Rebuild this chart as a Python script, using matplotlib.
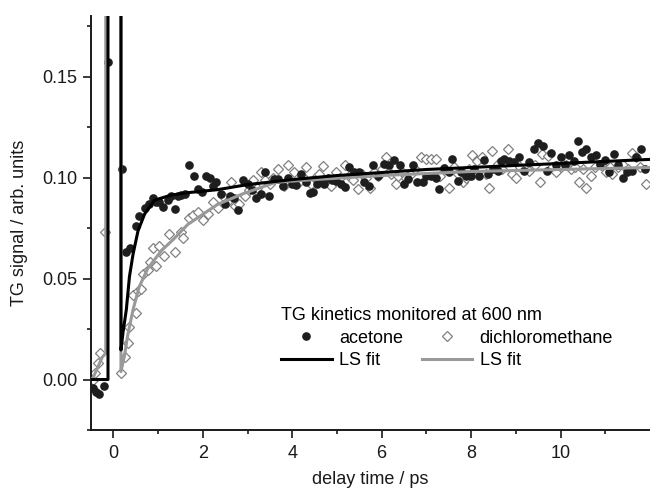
import matplotlib
matplotlib.use("Agg")
import matplotlib.pyplot as plt

plt.rcParams['font.family'] = ['Liberation Sans', 'DejaVu Sans']

# acetone data (delay time / ps, signal)
acetone_t = [-0.45, -0.39, -0.33, -0.22, -0.11, 0.20, 0.28, 0.38, 0.51, 0.58, 0.71, 0.80, 0.88, 0.96,
             1.03, 1.10, 1.22, 1.30, 1.38, 1.45, 1.51, 1.60, 1.70, 1.80, 1.89, 1.98, 2.07, 2.15, 2.22,
             2.29, 2.40, 2.49, 2.60, 2.70, 2.79, 2.90, 3.01, 3.10, 3.20, 3.31, 3.38, 3.49, 3.60, 3.68,
             3.79, 3.90, 4.00, 4.09, 4.20, 4.30, 4.39, 4.46, 4.55, 4.61, 4.70, 4.80, 4.90, 4.98, 5.10,
             5.19, 5.28, 5.39, 5.50, 5.61, 5.72, 5.80, 5.91, 6.06, 6.17, 6.28, 6.40, 6.49, 6.58, 6.69,
             6.80, 6.92, 6.99, 7.10, 7.21, 7.29, 7.40, 7.51, 7.58, 7.70, 7.77, 7.88, 8.00, 8.07, 8.18,
             8.29, 8.38, 8.48, 8.59, 8.66, 8.73, 8.85, 8.96, 9.07, 9.18, 9.30, 9.40, 9.50, 9.60, 9.69,
             9.78, 9.89, 10.00, 10.10, 10.19, 10.30, 10.39, 10.49, 10.58, 10.67, 10.79, 10.88, 10.99,
             11.08, 11.19, 11.29, 11.40, 11.49, 11.59, 11.68, 11.79, 11.89]
acetone_s = [-0.004, -0.006, -0.007, -0.003, 0.157, 0.104, 0.063, 0.065, 0.076, 0.081, 0.085, 0.087,
             0.090, 0.088, 0.088, 0.0856, 0.089, 0.091, 0.0845, 0.091, 0.0916, 0.092, 0.106, 0.101,
             0.0945, 0.093, 0.101, 0.100, 0.096, 0.098, 0.092, 0.087, 0.091, 0.090, 0.084, 0.099, 0.097,
             0.094, 0.090, 0.092, 0.103, 0.091, 0.0995, 0.0995, 0.096, 0.100, 0.097, 0.0964, 0.102,
             0.098, 0.0925, 0.093, 0.097, 0.0985, 0.097, 0.100, 0.099, 0.0985, 0.097, 0.0953, 0.105,
             0.1026, 0.1026, 0.0977, 0.096, 0.106, 0.101, 0.1066, 0.106, 0.1085, 0.106, 0.097, 0.0994,
             0.106, 0.098, 0.098, 0.101, 0.1006, 0.100, 0.0945, 0.1045, 0.103, 0.109, 0.0985, 0.1026,
             0.101, 0.101, 0.104, 0.101, 0.1085, 0.102, 0.104, 0.1034, 0.108, 0.109, 0.108, 0.1075,
             0.110, 0.1034, 0.1075, 0.114, 0.117, 0.1155, 0.1034, 0.112, 0.106, 0.110, 0.106, 0.111,
             0.108, 0.118, 0.1125, 0.114, 0.110, 0.111, 0.1066, 0.1087, 0.103, 0.1115, 0.106, 0.0997,
             0.103, 0.1034, 0.110, 0.114, 0.104]

# dichloromethane data
dcm_t = [-0.45, -0.40, -0.35, -0.30, -0.18, 0.17, 0.25, 0.32, 0.36, 0.44, 0.51, 0.55, 0.62, 0.66, 0.77,
         0.81, 0.88, 0.96, 1.03, 1.14, 1.25, 1.38, 1.51, 1.56, 1.70, 1.77, 1.89, 2.00, 2.11, 2.23, 2.34,
         2.45, 2.55, 2.64, 2.72, 2.81, 2.94, 3.03, 3.12, 3.22, 3.31, 3.40, 3.50, 3.58, 3.68, 3.81, 3.90,
         4.05, 4.15, 4.22, 4.31, 4.42, 4.52, 4.60, 4.68, 4.78, 4.87, 4.98, 5.06, 5.17, 5.26, 5.35, 5.46,
         5.55, 5.64, 5.73, 5.82, 5.92, 6.01, 6.10, 6.20, 6.32, 6.36, 6.46, 6.55, 6.65, 6.75, 6.88, 6.99,
         7.10, 7.21, 7.31, 7.41, 7.51, 7.62, 7.71, 7.81, 7.88, 7.95, 8.03, 8.14, 8.25, 8.33, 8.40, 8.46,
         8.59, 8.70, 8.83, 8.92, 9.00, 9.10, 9.20, 9.30, 9.42, 9.54, 9.59, 9.71, 9.80, 9.90, 10.02, 10.12,
         10.23, 10.33, 10.41, 10.50, 10.58, 10.67, 10.78, 10.90, 11.01, 11.10, 11.16, 11.28, 11.40,
         11.50, 11.60, 11.68, 11.78, 11.90]
dcm_s = [0.000, 0.003, 0.008, 0.013, 0.073, 0.003, 0.011, 0.018, 0.026, 0.042, 0.033, 0.044, 0.045,
         0.052, 0.054, 0.058, 0.065, 0.056, 0.066, 0.061, 0.072, 0.063, 0.073, 0.070, 0.080, 0.0815,
         0.083, 0.079, 0.082, 0.088, 0.085, 0.091, 0.088, 0.098, 0.086, 0.087, 0.091, 0.094, 0.099,
         0.095, 0.1026, 0.099, 0.097, 0.100, 0.104, 0.096, 0.106, 0.103, 0.098, 0.101, 0.105, 0.097,
         0.100, 0.102, 0.1055, 0.099, 0.096, 0.103, 0.100, 0.106, 0.101, 0.099, 0.0945, 0.102, 0.100,
         0.095, 0.103, 0.101, 0.104, 0.110, 0.102, 0.097, 0.101, 0.103, 0.100, 0.102, 0.104, 0.110,
         0.109, 0.109, 0.109, 0.101, 0.104, 0.095, 0.105, 0.102, 0.098, 0.100, 0.104, 0.111, 0.108,
         0.110, 0.102, 0.095, 0.113, 0.1066, 0.104, 0.114, 0.102, 0.100, 0.105, 0.104, 0.1034, 0.106,
         0.098, 0.1115, 0.1107, 0.105, 0.103, 0.105, 0.106, 0.104, 0.105, 0.098, 0.104, 0.095, 0.101,
         0.105, 0.106, 0.103, 0.105, 0.102, 0.105, 0.106, 0.104, 0.112, 0.110, 0.105, 0.097]

# least-squares fit curves
fit_acetone_t = [-0.5, -0.12, -0.12, 0.17, 0.17, 0.22, 0.29, 0.36, 0.44, 0.55, 0.70, 0.92, 1.29, 1.66,
                 2.33, 3.0, 4.0, 5.0, 6.0, 7.0, 8.0, 9.0, 10.0, 11.0, 12.0]
fit_acetone_s = [0.0, 0.0, 0.3, 0.3, 0.0146, 0.024, 0.0346, 0.051, 0.062, 0.0735, 0.082, 0.0888, 0.0913,
                 0.0925, 0.094, 0.0965, 0.099, 0.101, 0.1025, 0.104, 0.105, 0.106, 0.107, 0.108, 0.109]
fit_dcm_t = [-0.5, -0.45, -0.35, -0.25, -0.17, -0.17, 0.17, 0.17, 0.25, 0.32, 0.44, 0.58, 0.77, 1.07,
             1.37, 1.66, 2.04, 2.33, 2.9, 3.64, 4.5, 6.0, 8.0, 10.0, 12.0]
fit_dcm_s = [0.0, 0.001, 0.006, 0.011, 0.013, 0.3, 0.3, 0.0039, 0.012, 0.0218, 0.0346, 0.046, 0.055,
             0.0637, 0.070, 0.0767, 0.0824, 0.0867, 0.092, 0.0977, 0.099, 0.101, 0.103, 0.104, 0.105]

x_ticks = [0, 2, 4, 6, 8, 10]
y_ticks = [0.00, 0.05, 0.10, 0.15]

fig = plt.figure(figsize=(6.5, 4.88), dpi=100)
ax = fig.add_axes([91 / 650, 58 / 488, 559 / 650, 414 / 488])

ax.plot(dcm_t, dcm_s, linestyle='none', marker='D', markersize=5, markerfacecolor='white',
        markeredgecolor='#808080', markeredgewidth=0.9, label='dichloromethane', zorder=2)
ax.plot(acetone_t, acetone_s, linestyle='none', marker='o', markersize=5.2, color='#1e1e1e',
        label='acetone', zorder=3)
ax.plot(fit_dcm_t, fit_dcm_s, color='#999999', lw=2.2, label='LS fit', zorder=4)
ax.plot(fit_acetone_t, fit_acetone_s, color='black', lw=2.2, label='LS fit', zorder=5)

ax.set_xlim(-0.5, 12)
ax.set_ylim(-0.02, 0.18)
ax.set_xticks(x_ticks)
ax.set_xticklabels([str(v) for v in x_ticks])
ax.set_yticks(y_ticks)
ax.set_yticklabels([f"{v:.2f}" for v in y_ticks])
ax.set_xticks([1, 3, 5, 7, 9, 11], minor=True)
ax.set_yticks([-0.025, 0.025, 0.075, 0.125, 0.175], minor=True)

for s in ['top', 'right']:
    ax.spines[s].set_visible(False)
for s in ['left', 'bottom']:
    ax.spines[s].set_linewidth(1.4)
    ax.spines[s].set_color('#1a1a1a')

ax.tick_params(axis='both', which='major', direction='out', length=6, width=1.2,
               labelsize=13, colors='#1a1a1a')
ax.tick_params(axis='both', which='minor', direction='out', length=3, width=1.2, colors='#1a1a1a')
ax.tick_params(axis='x', which='major', pad=5)
ax.tick_params(axis='y', which='major', pad=4)

ax.set_xlabel('delay time / ps', fontsize=13, labelpad=6, color='#1a1a1a')
ax.set_ylabel('TG signal / arb. units', fontsize=13, labelpad=10, color='#1a1a1a')

h = ax.get_legend_handles_labels()[0]
order = [h[1], h[3], h[0], h[2]]
labels = ['acetone', 'LS fit', 'dichloromethane', 'LS fit']
leg = ax.legend(order, labels, ncol=2, title='TG kinetics monitored at 600 nm',
                loc='upper left', bbox_to_anchor=(281 / 650, 1 - 307 / 488),
                bbox_transform=fig.transFigure, frameon=False, fontsize=13,
                title_fontsize=13, handlelength=2.8, handletextpad=0.4,
                columnspacing=1.05, labelspacing=0.3, borderpad=0, borderaxespad=0)
leg._legend_box.align = 'left'
leg._legend_box.sep = 4
leg.set_clip_on(False)

fig.savefig('out.png', dpi=100)
